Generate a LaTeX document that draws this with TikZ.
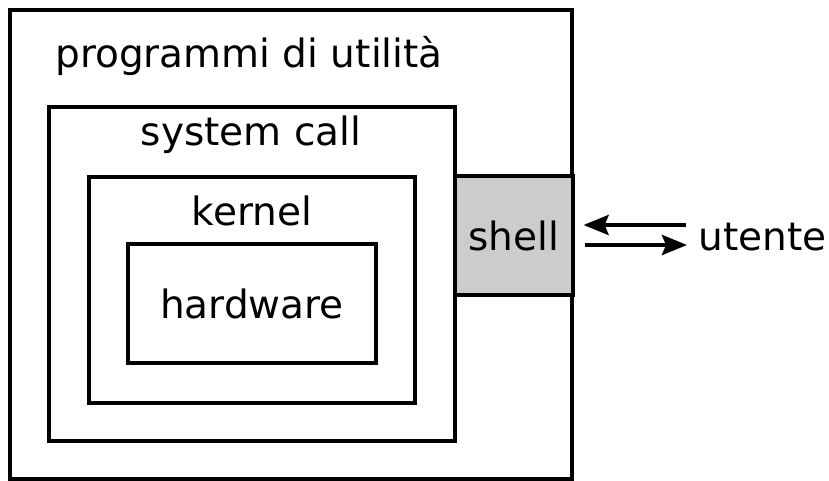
\documentclass[tikz,border=0pt]{standalone}
\usepackage{fontspec}
\setmainfont{DejaVu Sans}
\usetikzlibrary{arrows.meta}
\tikzset{
	box/.style={draw,line width=1.6pt,rectangle,inner sep=0pt},
	txt/.style={anchor=base,inner sep=0pt},
	arrow/.style={line width=2pt,-{Stealth[length=12.5pt,width=10pt,inset=2pt]}}
}
\begin{document}
\begin{tikzpicture}[x=0.5pt,y=-0.5pt,font=\fontsize{19.5}{23}\selectfont]
	\useasboundingbox (0,0) rectangle (829,481);
	% strati del sistema
	\node[box,minimum width=281pt,minimum height=234.5pt] (utilita) at (291,244.5) {};
	\node[box,minimum width=203pt,minimum height=167pt] (syscall) at (252,274) {};
	\node[box,minimum width=163pt,minimum height=113pt] (kernel) at (252,290) {};
	\node[box,minimum width=124pt,minimum height=59.5pt] (hardware) at (252,303.5) {hardware};
	\node[box,fill=black!20,minimum width=59pt,minimum height=59.5pt] (shell) at (514,235.5) {shell};
	% etichette
	\node[txt] (lutilita) at (249,68) {programmi di utilità};
	\node[txt] (lsyscall) at (251,145) {system call};
	\node[txt] (lkernel) at (252,225) {kernel};
	\node[txt,anchor=base west] (utente) at (698,250) {utente};
	% frecce
	\draw[arrow,shorten <=6pt,shorten >=4.5pt] ([yshift=5.25pt]shell.east -| utente.west) -- ([yshift=5.25pt]shell.east);
	\draw[arrow,shorten <=5pt,shorten >=5.5pt] ([yshift=-4.75pt]shell.east) -- ([yshift=-4.75pt]shell.east -| utente.west);
\end{tikzpicture}
\end{document}
